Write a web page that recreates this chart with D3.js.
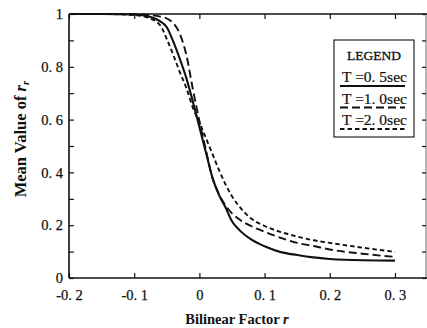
<!DOCTYPE html>
<html>
<head>
<meta charset="utf-8">
<script src="https://cdn.jsdelivr.net/npm/d3@7"></script>
<style>
  html, body { margin: 0; padding: 0; background: #fff; }
  svg { display: block; }
  text { font-family: "Liberation Serif", "DejaVu Serif", serif; fill: #111; }
</style>
</head>
<body>
<svg id="chart" width="427" height="328"></svg>
<script>
// Bilinear factor r (shared sampling grid for all three curves)
const rGrid = [-0.2, -0.15, -0.1, -0.08, -0.06, -0.05, -0.04, -0.03, -0.02, -0.01,
               0, 0.01, 0.02, 0.03, 0.04, 0.05, 0.06, 0.08, 0.1, 0.125, 0.15, 0.175, 0.2, 0.25, 0.3];

// Mean value of r_r for each natural period T
const meanT05 = [1.0, 1.0, 0.998, 0.992, 0.972, 0.95, 0.895, 0.83, 0.757, 0.668,
                 0.572, 0.476, 0.38, 0.315, 0.268, 0.215, 0.185, 0.145, 0.12, 0.098, 0.087, 0.078, 0.072, 0.067, 0.066];
const meanT10 = [1.0, 1.0, 0.999, 0.997, 0.99, 0.983, 0.965, 0.925, 0.845, 0.715,
                 0.595, 0.485, 0.38, 0.318, 0.275, 0.245, 0.224, 0.196, 0.175, 0.152, 0.133, 0.121, 0.108, 0.092, 0.08];
const meanT20 = [1.0, 1.0, 0.996, 0.987, 0.957, 0.905, 0.845, 0.78, 0.72, 0.645,
                 0.59, 0.53, 0.47, 0.41, 0.355, 0.31, 0.275, 0.224, 0.197, 0.174, 0.157, 0.143, 0.133, 0.115, 0.099];

const xTicks = [-0.2, -0.1, 0, 0.1, 0.2, 0.3];
const yTicks = [0, 0.2, 0.4, 0.6, 0.8, 1];
const yMinorTicks = [0.1, 0.3, 0.5, 0.7, 0.9];

const seriesNames = ["T =0. 5sec", "T =1. 0sec", "T =2. 0sec"];
const seriesValues = [meanT05, meanT10, meanT20];
const seriesDash = [null, "8,4", "4.5,3"];

const svg = d3.select("#chart");

const x = d3.scaleLinear().domain([-0.2, 0.347]).range([69, 425.6]);
const y = d3.scaleLinear().domain([0, 1]).range([278, 14]);

// "0. 8" style labels with an ASCII hyphen for negatives
const fmt = v => {
  if (v === 0) return "0";
  if (v === 1) return "1";
  const s = Math.abs(v).toFixed(1).replace(".", ". ");
  return (v < 0 ? "-" : "") + s;
};

// frame: top and right edges
svg.append("line").attr("x1", 69).attr("x2", 427).attr("y1", 14).attr("y2", 14)
  .attr("stroke", "#111").attr("stroke-width", 1.4);
svg.append("line").attr("x1", 426).attr("x2", 426).attr("y1", 14).attr("y2", 278)
  .attr("stroke", "#444").attr("stroke-width", 0.8);

// top ticks (inward)
svg.append("g").attr("transform", "translate(0,14)")
  .call(d3.axisTop(x).tickValues(xTicks).tickSize(-5).tickSizeOuter(0).tickFormat(""))
  .call(g => g.select(".domain").remove())
  .call(g => g.selectAll("line").attr("stroke", "#111").attr("stroke-width", 1.2));

// right ticks (inward)
svg.append("g").attr("transform", "translate(426,0)")
  .call(d3.axisRight(y).tickValues(yTicks.concat(yMinorTicks)).tickSize(-4).tickSizeOuter(0).tickFormat(""))
  .call(g => g.select(".domain").remove())
  .call(g => g.selectAll("line").attr("stroke", "#111").attr("stroke-width", 1.2));

// bottom axis
const xAxis = svg.append("g").attr("transform", "translate(0,278)")
  .call(d3.axisBottom(x).tickValues(xTicks).tickSize(-5).tickSizeOuter(0).tickPadding(12).tickFormat(fmt));
xAxis.select(".domain").attr("d", "M69,0H427").attr("stroke", "#111").attr("stroke-width", 1.6);
xAxis.selectAll("line").attr("stroke", "#111").attr("stroke-width", 1.2);
xAxis.selectAll("text").style("font-size", "14.5px").style("font-family", "Liberation Serif")
  .attr("fill", "#111").attr("stroke", "#111").attr("stroke-width", 0.25);

// left axis
const yAxis = svg.append("g").attr("transform", "translate(69,0)")
  .call(d3.axisLeft(y).tickValues(yTicks).tickSize(-5).tickSizeOuter(0).tickPadding(6).tickFormat(fmt));
yAxis.select(".domain").attr("d", "M0,14V278").attr("stroke", "#111").attr("stroke-width", 1.6);
yAxis.selectAll("line").attr("stroke", "#111").attr("stroke-width", 1.2);
yAxis.selectAll("text").style("font-size", "14.5px").style("font-family", "Liberation Serif")
  .attr("fill", "#111").attr("stroke", "#111").attr("stroke-width", 0.25);
svg.append("g").attr("transform", "translate(69,0)")
  .call(d3.axisLeft(y).tickValues(yMinorTicks).tickSize(-5).tickSizeOuter(0).tickFormat(""))
  .call(g => g.select(".domain").remove())
  .call(g => g.selectAll("line").attr("stroke", "#111").attr("stroke-width", 1.2));

// curves
const line = d3.line()
  .x((d, i) => x(rGrid[i]))
  .y(d => y(d))
  .curve(d3.curveMonotoneX);

seriesValues.forEach((vals, k) => {
  svg.append("path")
    .datum(vals)
    .attr("d", line)
    .attr("fill", "none")
    .attr("stroke", "#111")
    .attr("stroke-width", k === 0 ? 2.1 : 1.9)
    .attr("stroke-dasharray", seriesDash[k]);
});

// axis titles
svg.append("text")
  .attr("x", 237).attr("y", 324)
  .attr("text-anchor", "middle")
  .style("font-size", "14.5px").style("font-weight", "bold")
  .call(t => {
    t.append("tspan").text("Bilinear Factor ");
    t.append("tspan").style("font-style", "italic").text("r");
  });

svg.append("text")
  .attr("transform", "translate(26,139) rotate(-90)")
  .attr("text-anchor", "middle")
  .style("font-size", "16.5px").style("font-weight", "bold")
  .call(t => {
    t.append("tspan").text("Mean Value of ");
    t.append("tspan").style("font-style", "italic").text("r");
    t.append("tspan").style("font-style", "italic").style("font-size", "11px").attr("dy", 3).text("r");
  });

// legend
const lg = svg.append("g");
lg.append("rect").attr("x", 334).attr("y", 40).attr("width", 80).attr("height", 97)
  .attr("fill", "#fff").attr("stroke", "#111").attr("stroke-width", 1.1);
lg.append("text").attr("x", 374).attr("y", 60).attr("text-anchor", "middle")
  .style("font-size", "13.5px").attr("stroke", "#111").attr("stroke-width", 0.3).text("LEGEND");
seriesNames.forEach((name, k) => {
  const base = 82 + k * 21.5;
  lg.append("text").attr("x", 374.5).attr("y", base).attr("text-anchor", "middle")
    .style("font-size", "15.5px").attr("stroke", "#111").attr("stroke-width", 0.2).text(name);
  lg.append("line").attr("x1", 340).attr("x2", 405).attr("y1", base + 4).attr("y2", base + 4)
    .attr("stroke", "#111").attr("stroke-width", k === 0 ? 2 : 1.9)
    .attr("stroke-dasharray", seriesDash[k]);
});
</script>
</body>
</html>
